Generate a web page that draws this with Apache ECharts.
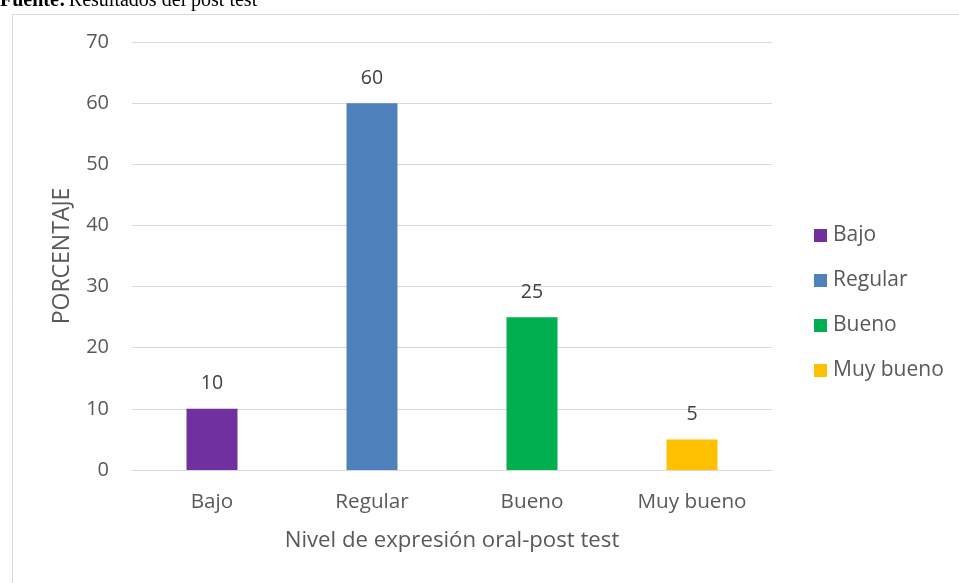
<!DOCTYPE html>
<html><head><meta charset="utf-8">
<script src="https://cdn.jsdelivr.net/npm/echarts@6/dist/echarts.min.js"></script>
<style>html,body{margin:0;padding:0;background:#fff}#c{width:959px;height:583px}</style>
</head><body><div id="c"></div>
<script>
const categories = ['Bajo', 'Regular', 'Bueno', 'Muy bueno'];
const values = [10, 60, 25, 5];
const colors = ['#7030A0', '#4F81BD', '#00B050', '#FFC000'];
const yTicks = { min: 0, max: 70, interval: 10 };

const series = categories.map((name, i) => ({
  name: name,
  type: 'bar',
  barWidth: 51,
  barGap: '-100%',
  itemStyle: { color: colors[i] },
  label: { show: true, position: 'top', distance: 15, color: '#404040', fontSize: 19.5, fontFamily: 'Open Sans' },
  data: categories.map((c, j) => j === i ? values[i] : '-')
}));

const chart = echarts.init(document.getElementById('c'), null, { renderer: 'canvas' });
chart.setOption({
  backgroundColor: '#fff',
  animation: false,
  graphic: [
    { type: 'rect', shape: { x: 12.5, y: 14.5, width: 960, height: 580 }, style: { fill: 'none', stroke: '#d9d9d9', lineWidth: 1 } },
    { type: 'text', left: 0, top: -9, style: { rich: { b: { fontFamily: 'Liberation Serif', fontWeight: 'bold', fontSize: 20, fill: '#000' }, n: { fontFamily: 'Liberation Serif', fontSize: 20, fill: '#000' } }, text: '{b|Fuente:} {n|Resultados del post test}' } }
  ],
  grid: { left: 132, right: 187, top: 42, bottom: 113 },
  legend: {
    orient: 'vertical', left: 809, top: 220, itemGap: 24, itemWidth: 13, itemHeight: 13,
    icon: 'rect',
    textStyle: { fontSize: 21, color: '#595959', fontFamily: 'Open Sans', padding: [0, 0, 0, 1] },
    data: categories
  },
  xAxis: {
    type: 'category', data: categories,
    axisLine: { show: true, lineStyle: { color: '#d9d9d9', width: 1 } },
    axisTick: { show: false },
    axisLabel: { fontSize: 20.7, color: '#595959', margin: 22, fontFamily: 'Open Sans' },
    name: 'Nivel de expresión oral-post test', nameLocation: 'middle', nameGap: 60,
    nameTextStyle: { fontSize: 22.2, color: '#595959', fontFamily: 'Open Sans' }
  },
  yAxis: {
    type: 'value', min: yTicks.min, max: yTicks.max, interval: yTicks.interval,
    axisLine: { show: false }, axisTick: { show: false },
    splitLine: { lineStyle: { color: '#d9d9d9', width: 1 } },
    axisLabel: { fontSize: 20, color: '#595959', margin: 23, fontFamily: 'Open Sans' },
    name: 'PORCENTAJE', nameLocation: 'middle', nameGap: 58, nameRotate: 90,
    nameTextStyle: { fontSize: 23, color: '#595959', fontFamily: 'Open Sans' }
  },
  series: series
});
</script></body></html>
